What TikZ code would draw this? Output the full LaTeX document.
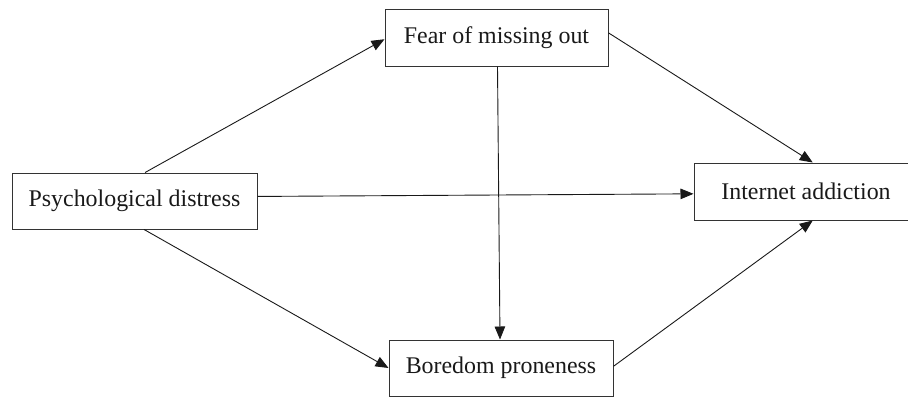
\documentclass[tikz,border=0pt]{standalone}
\usepackage{fontspec}
\setmainfont{Liberation Serif}
\usetikzlibrary{arrows.meta,calc}
\begin{document}
\begin{tikzpicture}[x=1pt,y=-1pt,
  box/.style={draw=black!80,line width=1pt,rectangle,inner sep=0pt,
    font=\fontsize{23.9}{28}\selectfont,text=black!90},
  link/.style={draw=black!90,line width=0.9pt,-{Triangle[length=13pt,width=10.5pt]}}]
\useasboundingbox (0,0) rectangle (908,397);
\node[box,minimum width=223pt,minimum height=57pt] (F) at (496.5,37.5) {Fear of missing out};
\node[box,minimum width=245pt,minimum height=56pt] (P) at (134.5,201) {Psychological distress};
\node[box,minimum width=224pt,minimum height=57pt] (I) at (806,191.5) {Internet addiction};
\node[box,minimum width=224pt,minimum height=56pt] (B) at (501,368) {Boredom proneness};
\draw[link] ($(P.north west)!0.543!(P.north east)$) -- ($(F.north west)!0.53!(F.south west)$);
\draw[link] ($(P.south west)!0.539!(P.south east)$) -- (B.west);
\draw[link] ($(P.north east)!0.42!(P.south east)$) -- ($(I.north west)!0.54!(I.south west)$);
\draw[link] ($(F.north east)!0.42!(F.south east)$) -- ($(I.north west)!0.53!(I.north east)$);
\draw[link] ($(B.north east)!0.47!(B.south east)$) -- ($(I.south west)!0.53!(I.south east)$);
\draw[link] ($(F.south)+(1,0)$) -- ($(B.north)+(-1,0)$);
\end{tikzpicture}
\end{document}
